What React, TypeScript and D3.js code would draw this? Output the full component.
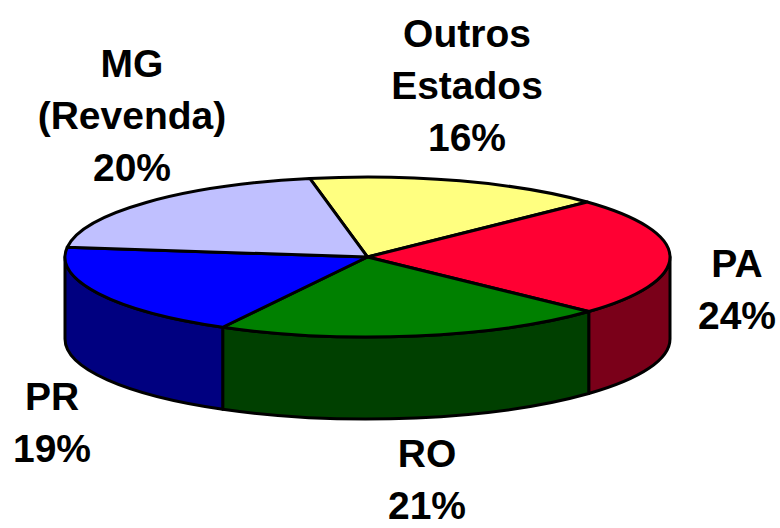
import React from "react";
import * as d3 from "d3";

// ---- data ----
const categories = ["Outros Estados", "PA", "RO", "PR", "MG (Revenda)"];
const labelLines = [["Outros", "Estados"], ["PA"], ["RO"], ["PR"], ["MG", "(Revenda)"]];
const values = [16, 24, 21, 19, 20];
const topColors = ["#FFFF80", "#FF0033", "#008000", "#0000FF", "#C0C0FF"];
const sideColors = ["#808040", "#7A0019", "#004000", "#000080", "#606080"];

// ---- layout ----
const W = 780;
const H = 528;
const cx = 367.5;
const cy = 257;
const rx = 302.5;
const ry = 80;
const depth = 82;
const startDeg = -11;
const labelPos = [
  [467, 47],
  [737, 277],
  [427, 467],
  [52, 410],
  [132, 77],
];
const lineGap = 52;
const fontSize = 39;

function pt(a: number, dy = 0): [number, number] {
  return [cx + rx * Math.sin(a), cy - ry * Math.cos(a) + dy];
}

export default function App() {
  const pie = d3
    .pie<number>()
    .sort(null)
    .value((d) => d)
    .startAngle((startDeg * Math.PI) / 180)
    .endAngle(((startDeg + 360) * Math.PI) / 180);
  const arcs = pie(values);

  const walls: { d: string; i: number }[] = [];
  arcs.forEach((a, i) => {
    const b0 = Math.max(a.startAngle, Math.PI / 2);
    const b1 = Math.min(a.endAngle, (3 * Math.PI) / 2);
    if (b1 <= b0) return;
    const [x0, y0] = pt(b0);
    const [x1, y1] = pt(b1);
    const [x2, y2] = pt(b1, depth);
    const [x3, y3] = pt(b0, depth);
    const d = `M${x0},${y0} A${rx},${ry} 0 0 1 ${x1},${y1} L${x2},${y2} A${rx},${ry} 0 0 0 ${x3},${y3} Z`;
    walls.push({ d, i });
  });

  const tops = arcs.map((a, i) => {
    const [x0, y0] = pt(a.startAngle);
    const [x1, y1] = pt(a.endAngle);
    const large = a.endAngle - a.startAngle > Math.PI ? 1 : 0;
    return { d: `M${cx},${cy} L${x0},${y0} A${rx},${ry} 0 ${large} 1 ${x1},${y1} Z`, i };
  });

  return (
    <svg
      width={W}
      height={H}
      style={{ position: "absolute", left: 0, top: 0, background: "#fff" }}
      fontFamily="'Liberation Sans', Arial, sans-serif"
    >
      <g stroke="#000" strokeWidth={3} strokeLinejoin="round">
        {walls.map((w) => (
          <path key={"w" + w.i} d={w.d} fill={sideColors[w.i]} />
        ))}
        {tops.map((t) => (
          <path key={"t" + t.i} d={t.d} fill={topColors[t.i]} />
        ))}
      </g>
      <g fontWeight="bold" fontSize={fontSize} textAnchor="middle" fill="#000">
        {categories.map((c, i) => {
          const lines = [...labelLines[i], `${values[i]}%`];
          const [lx, ly] = labelPos[i];
          return (
            <text key={c}>
              {lines.map((l, j) => (
                <tspan key={j} x={lx} y={ly + j * lineGap}>
                  {l}
                </tspan>
              ))}
            </text>
          );
        })}
      </g>
    </svg>
  );
}
